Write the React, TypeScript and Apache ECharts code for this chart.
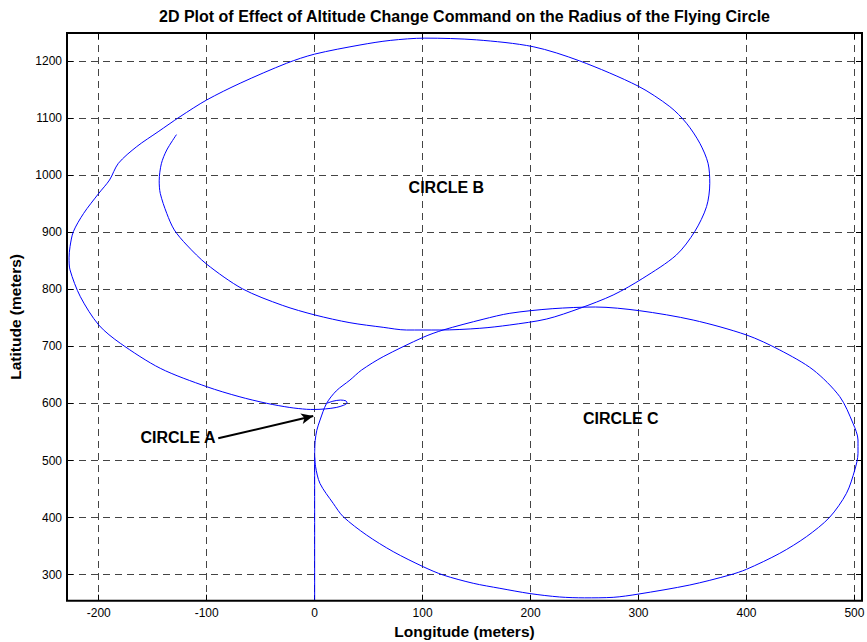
import React, { useEffect, useRef } from "react";
import * as echarts from "echarts";

// Axis ranges (meters)
const xRange = [-229.4, 507];
const yRange = [254.5, 1249];

// Straight northbound leg before the circles
const startLeg: number[][] = [
  [0, 255],
  [0, 505],
];

// Circle C
const circleC: number[][] = [
  [0, 513], [0.5, 535], [2, 553], [5, 571], [11, 600], [20, 622], [32.7, 641],
  [43.5, 658.6], [63.5, 682], [100.6, 716], [119, 728.7], [156, 747.5],
  [180.8, 758], [220, 766], [260, 769], [301, 762.5], [350.6, 746.2],
  [400, 720], [430.8, 693.7], [461.7, 659], [486.4, 612], [498.7, 565],
  [503.3, 536], [503.3, 512.7], [500.3, 483.5], [492.6, 442.6], [477, 400.6],
  [455.5, 366.6], [430.8, 337.5], [400, 309.5], [384.5, 299.5], [347.5, 282],
  [299.6, 266], [276.5, 260.4], [250, 259.5], [227, 261], [199.4, 267],
  [171.6, 276.2], [146.9, 285], [119, 299.5], [100.6, 314], [72.8, 340.4],
  [48, 369.6], [26.5, 401.6], [17.2, 425], [4.9, 460], [0.8, 490], [0, 513],
];

// Circle A loop, outward spiral and circle B
const circleAB: number[][] = [
  [11, 600], [17, 604], [24, 606], [29, 604.5], [30, 601], [27, 597],
  [20, 593], [10, 590.5], [0, 589.5], [-7.4, 589.8], [-23, 593],
  [-44.4, 600.3], [-70, 612], [-100, 629.4], [-143, 661.6], [-180, 705.4],
  [-200, 737.5], [-217, 787], [-226.6, 834], [-227.5, 855], [-226.6, 874.7],
  [-223.5, 901], [-214, 933], [-200, 968], [-190, 991.5], [-181.8, 1020.7],
  [-164.8, 1050], [-145, 1076], [-124.7, 1102.4], [-100, 1131.7],
  [-69, 1161], [-26, 1196], [0, 1212], [42, 1228], [70, 1236], [102, 1240],
  [150, 1237], [202.4, 1225], [245.6, 1200], [299.6, 1156], [329, 1120],
  [344.4, 1091], [356.8, 1055.8], [364.4, 1020.8], [366, 985.7], [363, 944.8],
  [352, 901], [335, 860], [304, 819.3], [276.5, 790], [245.6, 766.7],
  [215, 748], [180.8, 737.5], [153, 731.7], [116, 728.7], [85, 728.7],
  [63.5, 733.4], [32.7, 741.5], [0.3, 755], [-30, 772], [-67, 801],
  [-100, 844], [-118.5, 877.6], [-130, 904], [-137, 933], [-143, 968],
  [-144, 990], [-142, 1020], [-137, 1044], [-128, 1071],
];

// Annotation texts and their anchor positions
const labelTexts = ["CIRCLE B", "CIRCLE C", "CIRCLE A"];
const labelPositions: number[][] = [
  [122, 979],
  [283.6, 574.5],
  [-126.6, 541],
];
const arrowFrom = [-89.3, 539];
const arrowTo = [-1.3, 578];

const titleText =
  "2D Plot of Effect of Altitude Change Command on the Radius of the Flying Circle";
const xName = "Longitude (meters)";
const yName = "Latitude (meters)";

const FONT = "Arial, 'Liberation Sans', Helvetica, sans-serif";
const GRID = { left: 67, top: 33, right: 5, bottom: 41.3 };
const W = 867;
const H = 642;

export default function App() {
  const ref = useRef<HTMLDivElement>(null);

  useEffect(() => {
    if (!ref.current) return;
    const chart = echarts.init(ref.current, null, { renderer: "svg" });

    const hundreds = (v: number) =>
      Math.abs(v % 100) < 1e-6 ? String(Math.round(v)) : "";

    const gridLine = {
      show: true,
      lineStyle: { color: "#444", width: 1, type: [7, 5] as number[] },
    };

    const tick = {
      show: true,
      inside: true,
      length: 6,
      lineStyle: { color: "#000", width: 1 },
    };

    const lineSeries = (name: string, data: number[][]) => ({
      name,
      type: "line",
      data,
      xAxisIndex: 0,
      yAxisIndex: 0,
      showSymbol: false,
      symbol: "none",
      smooth: 0.3,
      lineStyle: { color: "#0000ff", width: 1 },
      silent: true,
      z: 3,
    });

    chart.setOption({
      animation: false,
      backgroundColor: "#ffffff",
      grid: { ...GRID, containLabel: false, outerBoundsMode: "none" },
      xAxis: [
        {
          type: "value",
          min: xRange[0],
          max: xRange[1],
          minInterval: 100,
          maxInterval: 100,
          position: "bottom",
          name: xName,
          nameLocation: "middle",
          nameGap: 21,
          nameTextStyle: {
            color: "#000",
            fontWeight: "bold",
            fontSize: 15.5,
            fontFamily: FONT,
          },
          axisLine: { show: false, onZero: false },
          axisTick: tick,
          axisLabel: {
            show: true,
            margin: 6,
            color: "#000",
            fontSize: 12,
            fontFamily: FONT,
            formatter: hundreds,
          },
          splitLine: gridLine,
        },
        {
          type: "value",
          min: xRange[0],
          max: xRange[1],
          minInterval: 100,
          maxInterval: 100,
          position: "top",
          axisLine: { show: false, onZero: false },
          axisTick: tick,
          axisLabel: { show: false },
          splitLine: { show: false },
        },
      ],
      yAxis: [
        {
          type: "value",
          min: yRange[0],
          max: yRange[1],
          minInterval: 100,
          maxInterval: 100,
          position: "left",
          name: yName,
          nameLocation: "middle",
          nameGap: 44,
          nameTextStyle: {
            color: "#000",
            fontWeight: "bold",
            fontSize: 15.5,
            fontFamily: FONT,
          },
          axisLine: { show: false, onZero: false },
          axisTick: tick,
          axisLabel: {
            show: true,
            margin: 5,
            color: "#000",
            fontSize: 12,
            fontFamily: FONT,
            formatter: hundreds,
          },
          splitLine: gridLine,
        },
        {
          type: "value",
          min: yRange[0],
          max: yRange[1],
          minInterval: 100,
          maxInterval: 100,
          position: "right",
          axisLine: { show: false, onZero: false },
          axisTick: tick,
          axisLabel: { show: false },
          splitLine: { show: false },
        },
      ],
      series: [
        lineSeries("start", startLeg),
        lineSeries("circleC", circleC),
        lineSeries("circleAB", circleAB),
        {
          name: "labels",
          type: "scatter",
          data: labelPositions,
          xAxisIndex: 0,
          yAxisIndex: 0,
          symbolSize: 0,
          silent: true,
          z: 5,
          itemStyle: { opacity: 1 },
          label: {
            show: true,
            position: "inside",
            formatter: (p: any) => labelTexts[p.dataIndex],
            color: "#000",
            opacity: 1,
            fontWeight: "bold",
            fontSize: 16,
            fontFamily: FONT,
          },
          markLine: {
            silent: true,
            animation: false,
            symbol: ["none", "arrow"],
            symbolSize: [8, 12],
            label: { show: false },
            lineStyle: { color: "#000", width: 2, type: "solid" },
            data: [[{ coord: arrowFrom }, { coord: arrowTo }]],
          },
        },
      ],
      graphic: [
        {
          type: "rect",
          z: 100,
          silent: true,
          shape: {
            x: GRID.left,
            y: GRID.top,
            width: W - GRID.left - GRID.right,
            height: H - GRID.top - GRID.bottom,
          },
          style: { fill: "none", stroke: "#000", lineWidth: 2 },
        },
        {
          type: "text",
          z: 100,
          silent: true,
          x: (GRID.left + W - GRID.right) / 2,
          y: 16.5,
          style: {
            text: titleText,
            fill: "#000",
            font: `bold 16px ${FONT}`,
            textAlign: "center",
            textVerticalAlign: "middle",
            align: "center",
            verticalAlign: "middle",
          },
        },
      ],
    });

    return () => chart.dispose();
  }, []);

  return (
    <div
      ref={ref}
      style={{
        position: "fixed",
        left: 0,
        top: 0,
        width: W,
        height: H,
        background: "#fff",
      }}
    />
  );
}
